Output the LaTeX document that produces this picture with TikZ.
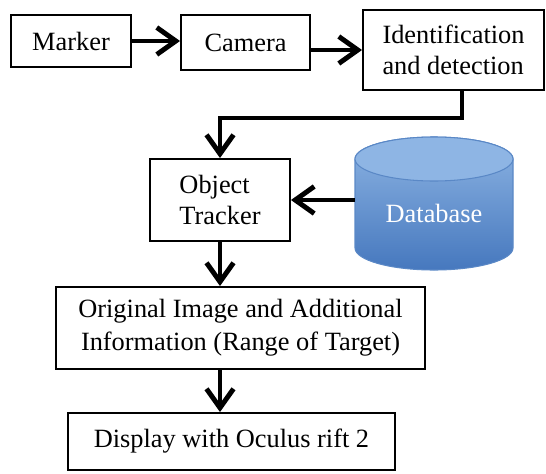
\documentclass[tikz,border=0pt]{standalone}
\usepackage{fontspec}
\setmainfont{Liberation Serif}
\usetikzlibrary{arrows.meta}

\definecolor{dbtop}{HTML}{8DB4E3}
\definecolor{dbbot}{HTML}{4678BE}
\definecolor{dbend}{HTML}{8EB5E4}
\definecolor{dbline}{HTML}{5A88C6}

\tikzset{
 blockbox/.style={draw, line width=1.1pt, inner sep=0pt, align=left,
  font=\fontsize{15}{17.5}\selectfont},
 arr/.style={line width=2.8pt, -{Straight Barb[length=3.8mm, width=5.4mm]}}
}

\begin{document}
\begin{tikzpicture}
 \useasboundingbox (0,0) rectangle (10.92,9.46);
 \node[blockbox, minimum width=2.40cm, minimum height=1.04cm] (marker) at (1.42,8.64) {Marker};
 \node[blockbox, minimum width=2.58cm, minimum height=1.10cm] (camera) at (4.91,8.61) {Camera};
 \node[blockbox, minimum width=3.62cm, minimum height=1.60cm] (ident) at (9.07,8.46) {Identification\\and detection};
 \node[blockbox, minimum width=2.80cm, minimum height=1.64cm] (tracker) at (4.40,5.46) {Object\\Tracker};
 \node[blockbox, align=center, font=\fontsize{15}{18.8}\selectfont,
  minimum width=7.38cm, minimum height=1.64cm] (orig) at (4.81,2.90)
  {Original Image and Additional\\Information (Range of Target)};
 \node[blockbox, minimum width=6.54cm, minimum height=1.14cm] (disp) at (4.63,0.63) {Display with Oculus rift 2};

 \shadedraw[top color=dbtop, bottom color=dbbot, draw=dbline, line width=0.6pt]
  (7.10,6.28) -- (7.10,4.50) arc[start angle=180, end angle=360, x radius=1.58, y radius=0.44]
  -- (10.26,6.28) arc[start angle=0, end angle=180, x radius=1.58, y radius=0.44] -- cycle;
 \draw[fill=dbend, draw=dbline, line width=0.6pt] (8.68,6.28) ellipse [x radius=1.58, y radius=0.44];
 \node[text=white, font=\fontsize{15}{18}\selectfont, minimum width=3.16cm, inner sep=0pt] (db) at (8.68,5.20) {Database};

 \draw[arr] (marker.east) -- (marker.east -| camera.west);
 \draw[arr] (camera.east |- ident.west) -- (ident.west);
 \draw[arr] ([xshift=0.17cm]ident.south) -- ++(0,-0.54) -| (tracker.north);
 \draw[arr] (db.west |- tracker.east) -- (tracker.east);
 \draw[arr] (tracker.south) -- (tracker.south |- orig.north);
 \draw[arr] (orig.south -| tracker.south) -- (tracker.south |- disp.north);
\end{tikzpicture}
\end{document}
